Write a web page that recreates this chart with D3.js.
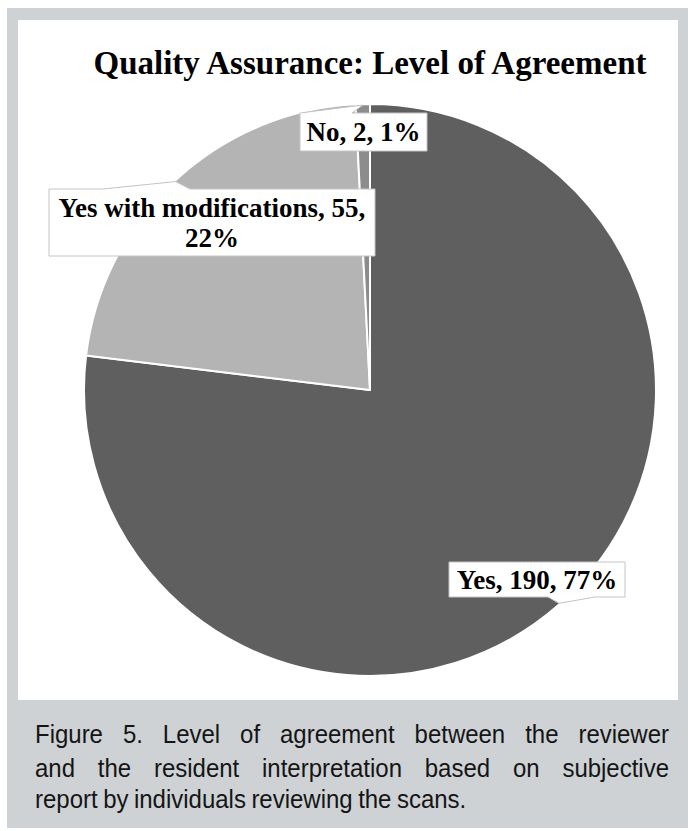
<!DOCTYPE html>
<html><head><meta charset="utf-8">
<script src="https://cdn.jsdelivr.net/npm/d3@7"></script>
<style>html,body{margin:0;padding:0;background:#fff;}svg{display:block;}</style>
</head><body>
<svg id="chart" width="688" height="831"></svg>
<script>
// ---- data ----
const categories = ["Yes", "Yes with modifications", "No"];
const counts = [190, 55, 2];
const percents = ["77%", "22%", "1%"];
const sliceColors = ["#5f5f5f", "#b4b4b4", "#8c8c8c"];
const title = "Quality Assurance: Level of Agreement";
const caption = [
  "Figure 5. Level of agreement between the reviewer",
  "and the resident interpretation based on subjective",
  "report by individuals reviewing the scans."
];

const svg = d3.select("#chart");

// frame
svg.append("rect").attr("x", 7).attr("y", 8).attr("width", 681).attr("height", 820).attr("fill", "#ced2d5");
svg.append("rect").attr("x", 18).attr("y", 20).attr("width", 660).attr("height", 680).attr("fill", "#ffffff");

// title
svg.append("text").attr("x", 370).attr("y", 74).attr("text-anchor", "middle")
  .attr("font-family", "'Liberation Serif','Times New Roman',serif").attr("font-weight", "bold")
  .attr("font-size", 33).attr("fill", "#000").text(title);

// pie
const cx = 370, cy = 390, R = 286;
const data = categories.map((c, i) => ({cat: c, value: counts[i], pct: percents[i], color: sliceColors[i]}));
const pie = d3.pie().value(d => d.value).sort(null).startAngle(0).endAngle(2 * Math.PI);
const arcs = pie(data);
const arc = d3.arc().innerRadius(0).outerRadius(R);
const g = svg.append("g").attr("transform", `translate(${cx},${cy})`);
g.selectAll("path").data(arcs).join("path")
  .attr("d", arc).attr("fill", d => d.data.color)
  .attr("stroke", "#fff").attr("stroke-width", 2).attr("stroke-linejoin", "round");

// callout labels (box layout constants)
const boxes = [
  {x0: 449, y0: 562, x1: 625, y1: 597, side: "bottom", b0: 548, b1: 595, lines: d => [`${d.cat}, ${d.value}, ${d.pct}`]},
  {x0: 49, y0: 189, x1: 375, y1: 256, side: "top", b0: 103, b1: 190, lines: d => [`${d.cat}, ${d.value},`, d.pct]},
  {x0: 300, y0: 113, x1: 427, y1: 151, side: "top", b0: 300, b1: 352, lines: d => [`${d.cat}, ${d.value}, ${d.pct}`]}
];
function tipPoint(a) {
  const m = (a.startAngle + a.endAngle) / 2;
  return [cx + (R - 1) * Math.sin(m), cy - (R - 1) * Math.cos(m)];
}
function calloutPath(b, tip) {
  const p = d3.path();
  if (b.side === "top") {
    p.moveTo(b.x0, b.y0); p.lineTo(b.b0, b.y0); p.lineTo(tip[0], tip[1]); p.lineTo(b.b1, b.y0);
    p.lineTo(b.x1, b.y0); p.lineTo(b.x1, b.y1); p.lineTo(b.x0, b.y1); p.closePath();
  } else {
    p.moveTo(b.x0, b.y0); p.lineTo(b.x1, b.y0); p.lineTo(b.x1, b.y1); p.lineTo(b.b1, b.y1);
    p.lineTo(tip[0], tip[1]); p.lineTo(b.b0, b.y1); p.lineTo(b.x0, b.y1); p.closePath();
  }
  return p.toString();
}
const lg = svg.append("g");
arcs.forEach((a, i) => {
  const b = boxes[i];
  const tip = tipPoint(a);
  lg.append("path").attr("d", calloutPath(b, tip)).attr("fill", "#fff")
    .attr("stroke", "#c4c4c4").attr("stroke-width", 1);
  const lines = b.lines(a.data);
  const midX = (b.x0 + b.x1) / 2;
  const lh = 30;
  const midY = (b.y0 + b.y1) / 2;
  lines.forEach((t, k) => {
    lg.append("text").attr("x", midX)
      .attr("y", midY + (k - (lines.length - 1) / 2) * lh + 9)
      .attr("text-anchor", "middle")
      .attr("font-family", "'Liberation Serif','Times New Roman',serif").attr("font-weight", "bold")
      .attr("font-size", 27).attr("fill", "#000").text(t);
  });
});

// caption (justified, slightly condensed)
const capLeft = 35, capRight = 669, capBase = [743, 777, 808];
const squeeze = 0.94, capSize = 25.5;
caption.forEach((line, i) => {
  const words = line.split(" ");
  const tg = svg.append("g");
  const nodes = words.map(w => tg.append("text").attr("y", capBase[i])
    .attr("font-family", "'Liberation Sans',Arial,sans-serif").attr("font-size", capSize)
    .attr("fill", "#151515").text(w));
  const widths = nodes.map(n => n.node().getComputedTextLength() * squeeze);
  nodes.forEach((n, k) => n.attr("textLength", widths[k]).attr("lengthAdjust", "spacingAndGlyphs"));
  const total = d3.sum(widths);
  const last = i === caption.length - 1;
  const gap = last ? 5.5 : (capRight - capLeft - total) / (words.length - 1);
  let x = capLeft;
  nodes.forEach((n, k) => { n.attr("x", x); x += widths[k] + gap; });
});
</script>
</body></html>
